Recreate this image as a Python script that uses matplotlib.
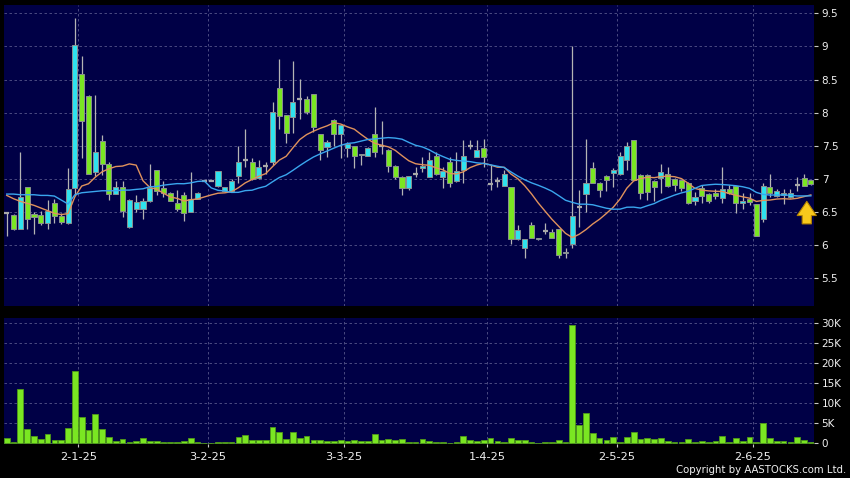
import numpy as np
import pandas as pd
import matplotlib
matplotlib.use("Agg")
import matplotlib.pyplot as plt
from matplotlib.ticker import FuncFormatter, FixedLocator

# ---------------- data (one entry per trading day) ----------------
opens = [6.48, 6.46, 6.25, 6.87, 6.47, 6.45, 6.34, 6.64, 6.44, 6.34,
         6.86, 8.58, 8.25, 7.10, 7.57, 7.23, 6.77, 6.87, 6.27, 6.54,
         6.55, 6.66, 7.13, 6.86, 6.78, 6.64, 6.76, 6.50, 6.70, 6.96,
         6.96, 6.89, 6.82, 6.82, 7.04, 7.28, 7.26, 7.01, 7.19, 7.26,
         8.37, 7.96, 7.93, 8.21, 8.21, 8.28, 7.67, 7.48, 7.89, 7.68,
         7.46, 7.49, 7.36, 7.35, 7.67, 7.50, 7.44, 7.19, 7.03, 6.86,
         7.07, 7.17, 7.03, 7.35, 7.03, 7.26, 6.96, 7.13, 7.50, 7.33,
         7.46, 6.92, 6.96, 6.89, 6.88, 6.09, 5.95, 6.31, 6.09, 6.21,
         6.20, 6.24, 5.88, 6.01, 6.58, 6.77, 7.16, 6.94, 7.05, 7.09,
         7.07, 7.29, 7.58, 7.06, 7.06, 6.97, 7.02, 7.08, 7.00, 6.98,
         6.94, 6.66, 6.86, 6.77, 6.79, 6.71, 6.85, 6.89, 6.64, 6.69,
         6.62, 6.40, 6.88, 6.74, 6.76, 6.73, 6.90, 7.01, 6.98]
highs = [6.50, 6.47, 7.40, 6.88, 6.50, 6.52, 6.68, 6.70, 6.48, 7.16,
         9.43, 8.85, 8.26, 8.27, 7.66, 7.25, 6.97, 6.97, 6.70, 6.76,
         6.71, 7.23, 7.13, 6.96, 6.80, 6.83, 6.80, 7.10, 6.80, 6.96,
         6.96, 7.12, 6.88, 7.00, 7.49, 7.76, 7.31, 7.28, 7.26, 8.16,
         8.81, 7.96, 8.78, 8.51, 8.25, 8.28, 7.68, 7.59, 7.90, 7.82,
         7.56, 7.50, 7.38, 7.48, 8.09, 7.87, 7.45, 7.21, 7.04, 7.05,
         7.18, 7.33, 7.41, 7.41, 7.18, 7.33, 7.41, 7.59, 7.59, 7.59,
         7.60, 7.21, 7.03, 7.14, 6.88, 6.30, 6.09, 6.35, 6.11, 6.34,
         6.25, 6.25, 5.95, 9.01, 6.83, 7.60, 7.26, 6.95, 7.06, 7.16,
         7.41, 7.56, 7.59, 7.07, 7.07, 6.98, 7.23, 7.18, 7.01, 6.99,
         6.95, 6.80, 6.91, 6.78, 6.84, 7.18, 6.90, 6.89, 6.78, 6.78,
         6.62, 6.93, 7.08, 6.84, 6.84, 6.84, 7.03, 7.07, 6.99]
lows = [6.14, 6.23, 6.24, 6.25, 6.17, 6.30, 6.25, 6.33, 6.32, 6.32,
        6.77, 7.31, 7.07, 7.04, 7.06, 6.68, 6.77, 6.43, 6.26, 6.50,
        6.40, 6.65, 6.76, 6.73, 6.66, 6.52, 6.37, 6.50, 6.69, 6.96,
        6.96, 6.88, 6.81, 6.81, 6.93, 7.18, 6.98, 7.00, 7.08, 7.21,
        7.76, 7.54, 7.69, 7.91, 7.98, 7.70, 7.28, 7.33, 7.49, 7.31,
        7.33, 7.16, 7.21, 7.35, 7.33, 7.38, 7.11, 7.00, 6.76, 6.83,
        7.03, 7.11, 7.03, 7.06, 6.86, 6.88, 6.95, 6.94, 7.45, 7.33,
        7.18, 6.83, 6.88, 6.89, 6.01, 6.08, 5.80, 6.10, 6.08, 6.16,
        6.10, 5.81, 5.81, 5.95, 6.28, 6.50, 6.94, 6.73, 6.81, 6.88,
        7.06, 7.14, 6.98, 6.70, 6.68, 6.67, 6.78, 6.88, 6.81, 6.82,
        6.62, 6.60, 6.63, 6.63, 6.70, 6.64, 6.77, 6.48, 6.55, 6.60,
        6.13, 6.35, 6.73, 6.73, 6.62, 6.71, 6.81, 6.89, 6.90]
closes = [6.48, 6.25, 6.72, 6.40, 6.42, 6.33, 6.52, 6.44, 6.35, 6.84,
          9.02, 7.87, 7.07, 7.40, 7.23, 6.77, 6.87, 6.51, 6.68, 6.65,
          6.66, 6.86, 6.81, 6.79, 6.67, 6.55, 6.48, 6.70, 6.79, 6.96,
          6.96, 7.12, 6.87, 6.97, 7.26, 7.28, 7.00, 7.18, 7.19, 8.01,
          7.95, 7.69, 8.16, 8.21, 8.01, 7.79, 7.44, 7.55, 7.67, 7.81,
          7.52, 7.34, 7.37, 7.47, 7.41, 7.50, 7.19, 7.03, 6.86, 7.04,
          7.07, 7.19, 7.29, 7.08, 7.12, 6.94, 7.12, 7.35, 7.50, 7.44,
          7.33, 6.92, 6.96, 7.07, 6.09, 6.23, 6.09, 6.11, 6.11, 6.21,
          6.11, 5.85, 5.90, 6.44, 6.58, 6.94, 6.94, 6.83, 6.98, 7.14,
          7.35, 7.50, 6.99, 6.78, 6.80, 6.87, 7.10, 6.89, 6.90, 6.86,
          6.63, 6.73, 6.74, 6.66, 6.74, 6.85, 6.78, 6.63, 6.67, 6.65,
          6.14, 6.89, 6.79, 6.81, 6.79, 6.79, 6.90, 6.89, 6.92]
volumes = [1300, 400, 13500, 3500, 1750, 1000, 2300, 750, 750, 3800,
           18000, 6600, 3300, 7250, 3500, 1600, 600, 1000, 330, 600,
           1200, 600, 600, 250, 250, 400, 500, 1250, 250, 0,
           0, 200, 300, 400, 1600, 2100, 700, 700, 700, 4000,
           2800, 1100, 2800, 1400, 1750, 800, 800, 600, 600, 750,
           600, 700, 500, 500, 2200, 900, 1100, 900, 1100, 400,
           300, 1100, 500, 300, 300, 150, 250, 1800, 800, 600,
           800, 1300, 600, 250, 1200, 700, 800, 300, 150, 300,
           300, 800, 250, 29500, 4500, 7500, 2500, 1200, 750, 1600,
           200, 1600, 2750, 1000, 1200, 1000, 1300, 500, 330, 400,
           1000, 300, 500, 200, 600, 1900, 400, 1300, 600, 1500,
           300, 5000, 1250, 600, 600, 330, 1600, 700, 330]
# moving-average values at the start of the window (history before the first bar)
ma10_head = [6.75, 6.70, 6.66, 6.63, 6.60, 6.56, 6.52, 6.48, 6.46]
ma20_head = [6.77, 6.77, 6.76, 6.76, 6.76, 6.75, 6.75, 6.74, 6.68, 6.62,
             6.76, 6.79, 6.80, 6.81, 6.82, 6.82, 6.82, 6.83, 6.83]
tick_idx = [10, 29, 49, 70, 89, 109]
tick_labels = ['2-1-25', '3-2-25', '3-3-25', '1-4-25', '2-5-25', '2-6-25']
price_ticks = [5.5, 6, 6.5, 7, 7.5, 8, 8.5, 9, 9.5]
vol_ticks = [0, 5000, 10000, 15000, 20000, 25000, 30000]

# ---------------- style ----------------
BG = '#000046'
GRID = '#55558a'
UP = '#2fe2ee'
DOWN = '#7ae622'
EDGE = '#8a9090'
WICK = '#b4b4b4'
TXT = '#f0f0f0'

o = np.array(opens); h = np.array(highs); l = np.array(lows); c = np.array(closes)
v = np.array(volumes, dtype=float)
n = len(c)
x = np.arange(n)

cs = pd.Series(c)
ma10 = cs.rolling(10).mean().to_numpy()
ma20 = cs.rolling(20).mean().to_numpy()
ma10[:len(ma10_head)] = ma10_head
ma20[:len(ma20_head)] = ma20_head

fig = plt.figure(figsize=(8.5, 4.78), dpi=100, facecolor='black')
ax = fig.add_axes([4 / 850, 1 - 306 / 478, 810 / 850, 301 / 478], facecolor=BG)
axv = fig.add_axes([4 / 850, 1 - 444 / 478, 810 / 850, 126 / 478], facecolor=BG, sharex=ax)

grid_pos = [t + 0.5 for t in tick_idx]
for a in (ax, axv):
    for s in a.spines.values():
        s.set_visible(False)
    a.set_axisbelow(True)
    a.grid(True, color=GRID, linestyle=(0, (3, 3)), linewidth=0.6)
    a.yaxis.tick_right()
    a.tick_params(axis='y', colors='#c8c8c8', labelcolor=TXT, labelsize=7.5,
                  length=3, width=0.8, pad=2.5, direction='out')

# --- candles ---
up = c > o
down = c < o
flat = c == o
bw = 0.74
ax.vlines(x, l, h, color=WICK, linewidth=0.9, zorder=2)
ax.bar(x[up], (c - o)[up], bottom=o[up], width=bw, color=UP,
       edgecolor=EDGE, linewidth=0.7, zorder=3)
ax.bar(x[down], (o - c)[down], bottom=c[down], width=bw, color=DOWN,
       edgecolor=EDGE, linewidth=0.7, zorder=3)
ax.hlines(c[flat], x[flat] - bw / 2, x[flat] + bw / 2, color='#a8a8a8',
          linewidth=1.6, zorder=3)

ax.plot(x, ma10, color='#e0925c', linewidth=1.0, zorder=4)
ax.plot(x, ma20, color='#3aa6ee', linewidth=1.0, zorder=4)

# latest-bar marker arrow
ax.annotate('', xy=(n - 1.6, c[-1] - 0.26), xytext=(n - 1.6, c[-1] - 0.60),
            arrowprops=dict(arrowstyle='simple,head_width=1.15,head_length=0.85,tail_width=0.55',
                            fc='#f8c91c', ec='#b68400', lw=0.8, mutation_scale=12,
                            shrinkA=0, shrinkB=0),
            zorder=6)

ax.set_ylim(5.08, 9.625)
ax.yaxis.set_major_locator(FixedLocator(price_ticks))
ax.yaxis.set_major_formatter(FuncFormatter(lambda val, _: f'{val:g}'))
ax.set_xlim(-0.4, 118.46)
ax.set_xticks(grid_pos)
ax.tick_params(axis='x', length=0, labelbottom=False)

# --- volume ---
axv.bar(x, v, width=0.84, color=DOWN, edgecolor='#4f9a18', linewidth=0.6, zorder=3)
axv.set_ylim(-200, 31300)
axv.yaxis.set_major_locator(FixedLocator(vol_ticks))
axv.yaxis.set_major_formatter(FuncFormatter(
    lambda val, _: '0' if val == 0 else f'{int(round(val / 1000))}K'))
axv.set_xticks(grid_pos)
axv.set_xticklabels(tick_labels)
axv.tick_params(axis='x', colors='#c8c8c8', labelcolor=TXT, labelsize=8.2,
                length=2.5, width=0.8, pad=3, direction='out')

fig.text(846 / 850, 1 - 470 / 478, 'Copyright by AASTOCKS.com Ltd.', color=TXT,
         fontsize=7.3, ha='right', va='center')

fig.savefig('out.png', dpi=100, facecolor='black')
